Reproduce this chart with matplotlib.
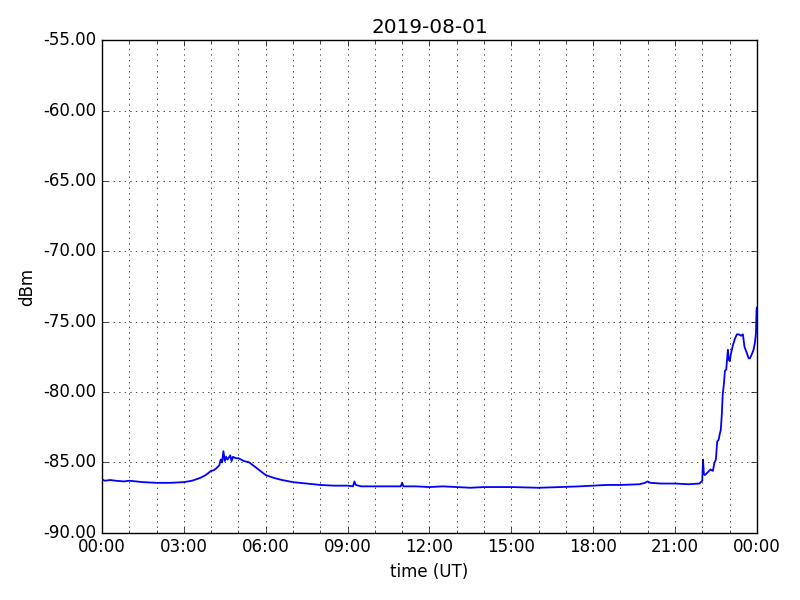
import datetime as dt
import matplotlib
matplotlib.use('Agg')
import matplotlib.pyplot as plt
import matplotlib.dates as mdates
from matplotlib.ticker import FormatStrFormatter

plt.style.use('classic')

day = '2019-08-01'
# time of day (hours) and signal level (dBm)
hours = [0.0, 0.1, 0.3, 0.5, 0.8, 1.0, 1.5, 2.0, 2.2, 2.5, 3.0, 3.3, 3.6, 3.8, 4.0,
         4.1, 4.2, 4.3, 4.35, 4.4, 4.45, 4.5, 4.55, 4.6, 4.7, 4.75, 4.8, 4.9, 5.0,
         5.2, 5.4, 5.6, 5.8, 6.0, 6.3, 6.6, 7.0, 7.5, 8.0, 8.5, 9.0, 9.2, 9.25,
         9.3, 9.5, 10.0, 10.5, 10.95, 11.0, 11.05, 11.5, 12.0, 12.5, 13.0, 13.5,
         14.0, 14.6, 15.0, 16.0, 16.8, 17.5, 18.0, 18.5, 19.0, 19.7, 19.9, 20.0,
         20.1, 20.5, 21.0, 21.5, 21.9, 22.0, 22.03, 22.06, 22.1, 22.2, 22.3,
         22.39, 22.45, 22.5, 22.55, 22.6, 22.64, 22.68, 22.72, 22.75, 22.8, 22.83,
         22.88, 22.94, 22.97, 23.01, 23.05, 23.12, 23.2, 23.27, 23.35, 23.42, 23.49,
         23.55, 23.63, 23.7, 23.75, 23.82, 23.88, 23.93, 23.97, 23.99, 24.0]
dbm = [-86.2, -86.3, -86.25, -86.3, -86.35, -86.3, -86.4, -86.45, -86.45, -86.45,
       -86.4, -86.3, -86.1, -85.9, -85.6, -85.55, -85.4, -85.2, -84.8, -85.0,
       -84.2, -84.9, -84.6, -84.8, -84.5, -84.9, -84.6, -84.7, -84.7, -84.9,
       -85.0, -85.3, -85.6, -85.9, -86.1, -86.25, -86.4, -86.5, -86.6, -86.65,
       -86.65, -86.7, -86.35, -86.6, -86.7, -86.7, -86.7, -86.7, -86.45, -86.7,
       -86.7, -86.75, -86.7, -86.75, -86.8, -86.75, -86.75, -86.75, -86.8, -86.75,
       -86.7, -86.65, -86.6, -86.6, -86.55, -86.45, -86.35, -86.45, -86.5, -86.5,
       -86.55, -86.5, -86.3, -84.8, -85.8, -85.9, -85.7, -85.5, -85.6, -85.0,
       -84.8, -83.5, -83.4, -83.0, -82.7, -81.5, -80.2, -79.3, -78.5, -78.4,
       -77.0, -77.7, -77.8, -77.3, -76.7, -76.2, -75.9, -75.9, -76.0, -75.9,
       -76.8, -77.2, -77.6, -77.6, -77.3, -77.0, -76.5, -75.8, -74.2, -74.0]

times = [dt.datetime(2019, 8, 1) + dt.timedelta(hours=h) for h in hours]

fig = plt.figure(figsize=(8, 6), dpi=100, facecolor='white')
ax = fig.add_subplot(111)
fig.subplots_adjust(left=0.1275, right=0.946, top=0.933, bottom=0.112)

ax.plot(times, dbm, 'b-', lw=1.3)

ax.set_xlim(dt.datetime(2019, 8, 1), dt.datetime(2019, 8, 2))
ax.set_ylim(-90, -55)
ax.xaxis.set_major_locator(mdates.HourLocator(byhour=range(0, 24, 3)))
ax.xaxis.set_minor_locator(mdates.HourLocator())
ax.xaxis.set_major_formatter(mdates.DateFormatter('%H:%M'))
ax.yaxis.set_major_formatter(FormatStrFormatter('%.2f'))
ax.grid(True, which='major')
ax.xaxis.grid(True, which='minor')

ax.set_title(day)
ax.set_xlabel('time (UT)')
ax.set_ylabel('dBm')

fig.savefig('out.png', dpi=100, facecolor='white')
